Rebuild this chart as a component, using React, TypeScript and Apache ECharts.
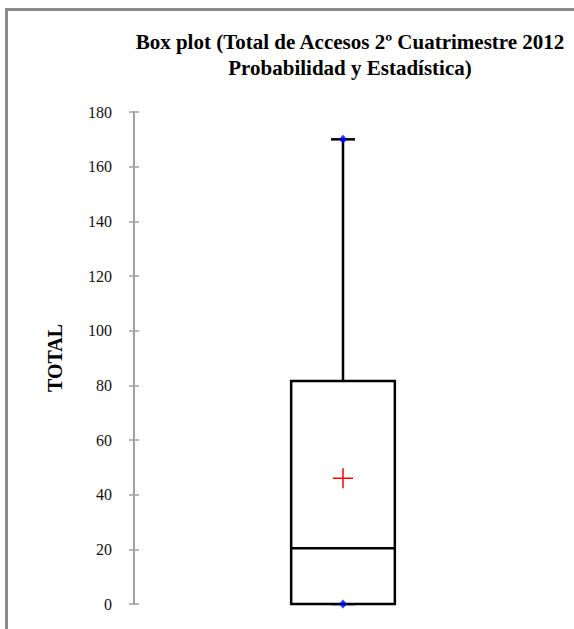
import React, { useEffect, useRef } from "react";
import * as echarts from "echarts";

const categories = ["TOTAL"];
// min, Q1, median, Q3, max
const boxStats = [0, 0, 20.4, 81.6, 170];
const meanValues = [46];
const extremePoints = [0, 170];
const yAxisMin = 0;
const yAxisMax = 180;
const yAxisInterval = 20;
const titleLines = [
  "Box plot (Total de Accesos 2º Cuatrimestre 2012",
  "Probabilidad y Estadística)",
];
const axisTitle = "TOTAL";

const SERIF = "Liberation Serif";

export default function App() {
  const ref = useRef<HTMLDivElement>(null);

  useEffect(() => {
    if (!ref.current) return;
    const chart = echarts.init(ref.current, null, { renderer: "svg" });

    const gray = "#a0a0a0";

    const option: any = {
      animation: false,
      backgroundColor: "#ffffff",
      grid: { left: 134, right: 22, top: 112, bottom: 25, containLabel: false },
      xAxis: {
        type: "category",
        data: categories,
        boundaryGap: true,
        axisLine: { show: false },
        axisTick: { show: false },
        axisLabel: { show: false },
        splitLine: { show: false },
      },
      yAxis: [
        {
          type: "value",
          min: yAxisMin,
          max: yAxisMax,
          interval: yAxisInterval,
          position: "left",
          axisLine: { show: true, lineStyle: { color: gray, width: 2 } },
          axisTick: { show: true, length: 5, lineStyle: { color: gray, width: 1.5 } },
          axisLabel: { margin: 22, color: "#111", fontFamily: SERIF, fontSize: 16 },
          splitLine: { show: false },
        },
        {
          type: "value",
          min: yAxisMin,
          max: yAxisMax,
          interval: yAxisInterval,
          position: "left",
          offset: 0,
          axisLine: { show: false },
          axisTick: { show: true, inside: true, length: 5, lineStyle: { color: gray, width: 1.5 } },
          axisLabel: { show: false },
          splitLine: { show: false },
        },
      ],
      graphic: [
        {
          type: "rect",
          shape: { x: 6.5, y: 9.5, width: 700, height: 700 },
          style: { fill: "none", stroke: "#8a8a8a", lineWidth: 3 },
          silent: true,
        },
        {
          type: "text",
          x: 350,
          y: 42,
          style: {
            text: titleLines[0],
            font: `bold 21px ${SERIF}`,
            fill: "#000",
            textAlign: "center",
            textVerticalAlign: "middle",
            align: "center",
            verticalAlign: "middle",
          },
        },
        {
          type: "text",
          x: 350,
          y: 68,
          style: {
            text: titleLines[1],
            font: `bold 21px ${SERIF}`,
            fill: "#000",
            textAlign: "center",
            textVerticalAlign: "middle",
            align: "center",
            verticalAlign: "middle",
          },
        },
        {
          type: "text",
          x: 55,
          y: 358,
          rotation: Math.PI / 2,
          style: {
            text: axisTitle,
            font: `bold 20px ${SERIF}`,
            fill: "#000",
            textAlign: "center",
            textVerticalAlign: "middle",
            align: "center",
            verticalAlign: "middle",
          },
        },
      ],
      series: [
        {
          type: "custom",
          yAxisIndex: 0,
          data: [[0, ...boxStats, meanValues[0]]],
          encode: { x: 0, y: [1, 2, 3, 4, 5, 6] },
          renderItem: (params: any, api: any) => {
            const idx = api.value(0);
            const mn = api.value(1);
            const q1 = api.value(2);
            const med = api.value(3);
            const q3 = api.value(4);
            const mx = api.value(5);
            const mean = api.value(6);
            const band = api.size([1, 0])[0];
            const half = band * 0.124;
            const capHalf = band * 0.0287;
            const pMin = api.coord([idx, mn]);
            const pQ1 = api.coord([idx, q1]);
            const pMed = api.coord([idx, med]);
            const pQ3 = api.coord([idx, q3]);
            const pMax = api.coord([idx, mx]);
            const pMean = api.coord([idx, mean]);
            const cx = pQ1[0];
            const lineStyle = { stroke: "#000", lineWidth: 2.5 };
            const redStyle = { stroke: "#ff0000", lineWidth: 1.5 };
            return {
              type: "group",
              children: [
                { type: "line", shape: { x1: cx, y1: pQ3[1], x2: cx, y2: pMax[1] }, style: lineStyle },
                { type: "line", shape: { x1: cx - capHalf, y1: pMax[1], x2: cx + capHalf, y2: pMax[1] }, style: lineStyle },
                { type: "line", shape: { x1: cx, y1: pQ1[1], x2: cx, y2: pMin[1] }, style: lineStyle },
                { type: "line", shape: { x1: cx - capHalf, y1: pMin[1], x2: cx + capHalf, y2: pMin[1] }, style: lineStyle },
                {
                  type: "rect",
                  shape: { x: cx - half, y: pQ3[1], width: half * 2, height: pQ1[1] - pQ3[1] },
                  style: { fill: "#ffffff", stroke: "#000", lineWidth: 2.5 },
                },
                { type: "line", shape: { x1: cx - half, y1: pMed[1], x2: cx + half, y2: pMed[1] }, style: lineStyle },
                { type: "line", shape: { x1: cx - 10, y1: pMean[1], x2: cx + 10, y2: pMean[1] }, style: redStyle },
                { type: "line", shape: { x1: cx, y1: pMean[1] - 10, x2: cx, y2: pMean[1] + 10 }, style: redStyle },
              ],
            };
          },
          z: 2,
        },
        {
          type: "scatter",
          yAxisIndex: 0,
          data: extremePoints.map((v) => [categories[0], v]),
          symbol: "diamond",
          symbolSize: [8, 9],
          itemStyle: { color: "#0000ff" },
          z: 3,
        },
      ],
    };

    chart.setOption(option);
    return () => {
      chart.dispose();
    };
  }, []);

  return (
    <div
      ref={ref}
      style={{ position: "absolute", left: 0, top: 0, width: 574, height: 629 }}
    />
  );
}
